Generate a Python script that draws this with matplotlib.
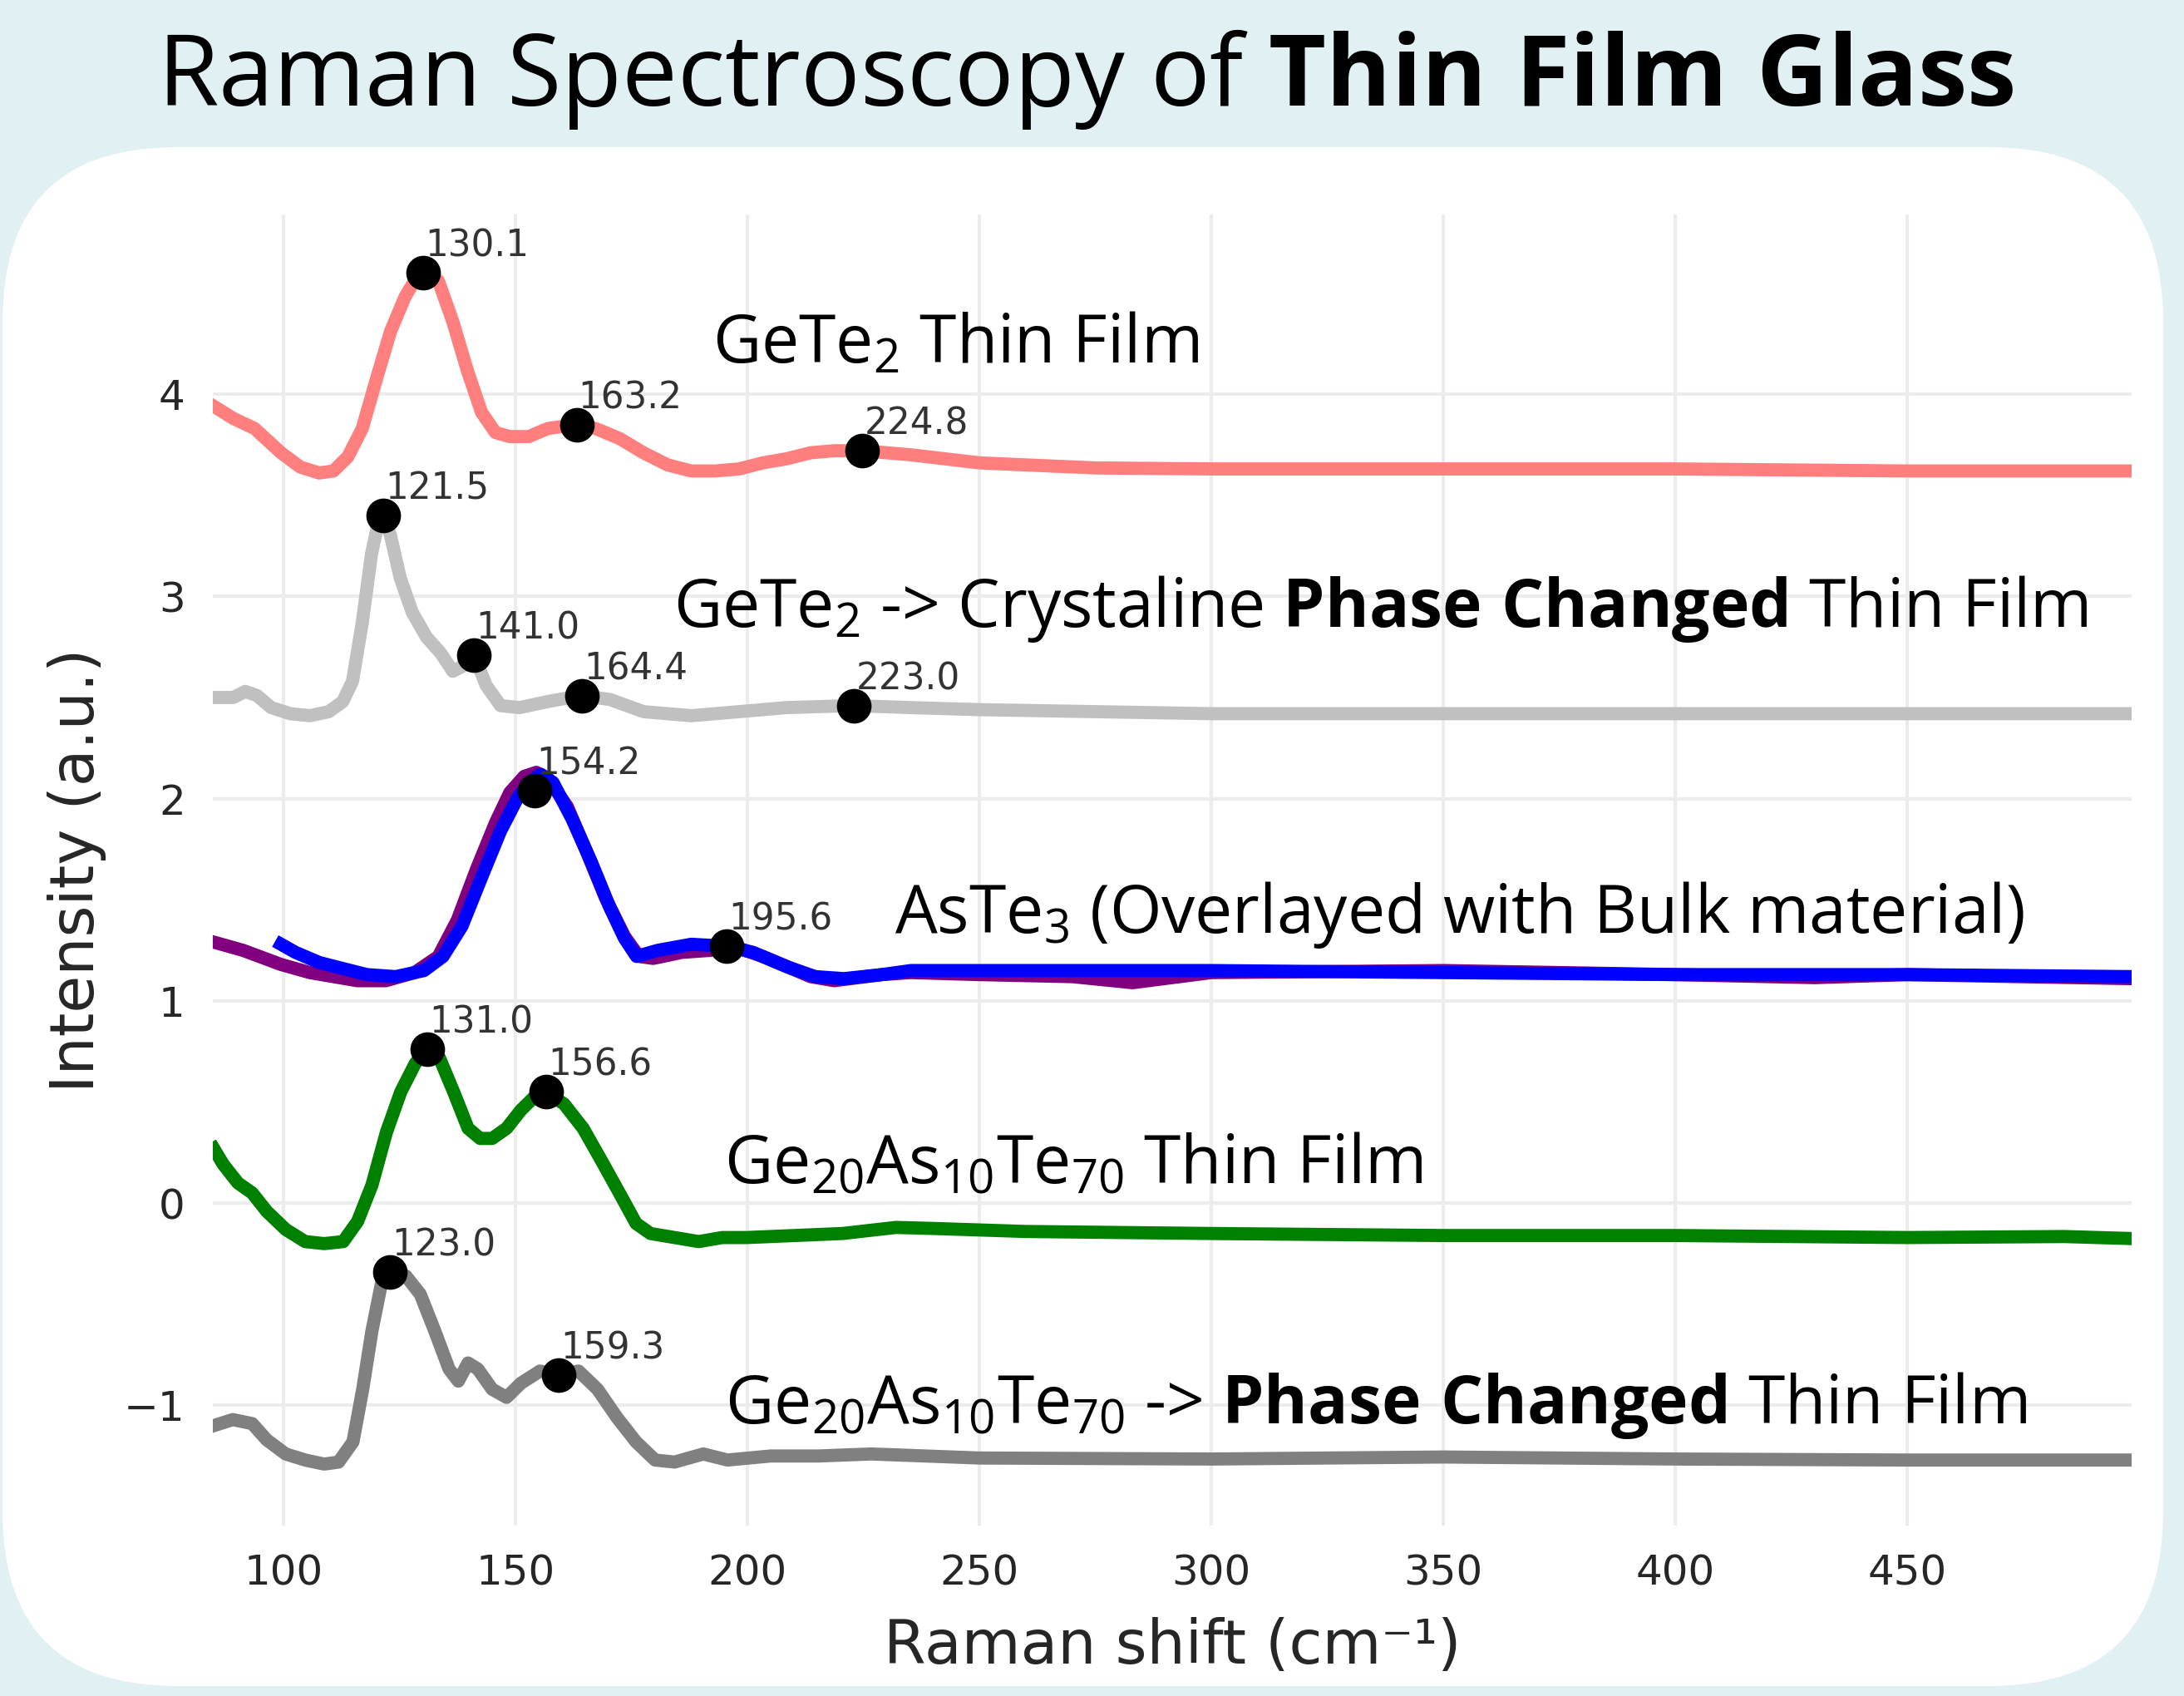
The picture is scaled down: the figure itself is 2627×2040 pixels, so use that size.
import matplotlib
matplotlib.use("Agg")
import matplotlib.pyplot as plt
from matplotlib.patches import FancyBboxPatch

# ---- data ----
# GeTe2 thin film (pink)
gete2_x = [85, 89.2, 93.8, 99.5, 103.6, 107.7, 110.8, 113.9, 117, 120, 123.1, 126.2, 128.8,
           130.8, 133.4, 136.5, 139.6, 142.7, 145.7, 148.8, 152.9, 157, 163.2, 167.3, 172.5,
           177.6, 182.8, 187.9, 193, 198.2, 203.3, 208.4, 213.6, 218.7, 224.8, 235.2, 250,
           275, 300, 350, 400, 450, 498.3]
gete2_y = [3.94, 3.88, 3.83, 3.71, 3.64, 3.61, 3.62, 3.69, 3.83, 4.07, 4.31, 4.48, 4.58,
           4.60, 4.56, 4.36, 4.12, 3.91, 3.81, 3.79, 3.79, 3.83, 3.85, 3.83, 3.78,
           3.71, 3.65, 3.62, 3.62, 3.63, 3.66, 3.68, 3.71, 3.72, 3.72, 3.70, 3.66,
           3.635, 3.63, 3.63, 3.63, 3.62, 3.62]

# GeTe2 -> crystalline phase changed (light grey)
gete2pc_x = [85, 89.2, 91.8, 94.3, 97.4, 101.5, 105.7, 109.8, 112.8, 114.9, 117, 119, 120.6,
             121.6, 123.1, 125.2, 127.8, 130.8, 133.9, 136.5, 139.1, 141.1, 143.7, 146.8,
             150.9, 157, 164.2, 170.4, 177.6, 187.9, 198.2, 208.4, 222.8, 235.2, 250, 300,
             400, 498.3]
gete2pc_y = [2.50, 2.50, 2.53, 2.51, 2.45, 2.42, 2.41, 2.43, 2.48, 2.58, 2.87, 3.21, 3.38,
             3.40, 3.30, 3.09, 2.92, 2.80, 2.72, 2.63, 2.66, 2.71, 2.56, 2.46,
             2.45, 2.48, 2.51, 2.49, 2.43, 2.41, 2.43, 2.45, 2.46, 2.45, 2.44, 2.42,
             2.42, 2.42]

# AsTe3 bulk (purple)
bulk_x = [85.1, 91.3, 99.5, 105.7, 115.9, 122.1, 128.3, 133.4, 137.5, 141.6, 145.7, 148.8,
          151.9, 154.5, 157, 161.2, 165.3, 169.4, 173.5, 176.6, 179.7, 185.9, 192, 198.2,
          203.3, 208.5, 213.6, 218.7, 229, 235.2, 250, 270, 283, 300, 350, 400, 430, 450,
          498.3]
bulk_y = [1.29, 1.25, 1.18, 1.14, 1.10, 1.10, 1.14, 1.22, 1.40, 1.65, 1.88, 2.03,
          2.11, 2.13, 2.10, 1.96, 1.74, 1.51, 1.32, 1.22, 1.21, 1.24, 1.25, 1.26,
          1.22, 1.17, 1.12, 1.10, 1.13, 1.14, 1.13, 1.12, 1.09, 1.14, 1.15, 1.13, 1.115,
          1.13, 1.11]

# AsTe3 thin film (blue)
astf_x = [99.5, 102.6, 107.7, 112.8, 118, 124.2, 130.3, 134.4, 138.5, 142.7, 146.8, 150.4,
          153, 155.5, 158.1, 162.2, 166.3, 170.4, 173.5, 176.1, 180.7, 187.9, 195.6, 201.2,
          208.4, 214.6, 220.8, 229, 235.2, 250, 300, 350, 400, 450, 498.3]
astf_y = [1.28, 1.24, 1.19, 1.16, 1.13, 1.12, 1.15, 1.22, 1.37, 1.61, 1.84, 2.00,
          2.08, 2.12, 2.08, 1.90, 1.69, 1.46, 1.31, 1.22, 1.25, 1.28, 1.27, 1.24,
          1.17, 1.12, 1.11, 1.13, 1.15, 1.15, 1.15, 1.14, 1.13, 1.13, 1.12]

# Ge20As10Te70 thin film (green)
gat_x = [85, 87.1, 90.2, 93.3, 96.4, 100.5, 104.7, 108.8, 112.9, 116, 119.1, 122.2, 125.3,
         128.4, 131, 133.6, 136.7, 139.8, 142.4, 145, 148.1, 151.2, 154.3, 156.6, 160.5,
         164.6, 168.8, 172.9, 176, 179.1, 184.3, 189.5, 194.6, 199.8, 210.1, 220.5, 232,
         240, 260, 300, 350, 400, 450, 483.8, 498.3]
gat_y = [0.27, 0.19, 0.10, 0.05, -0.04, -0.13, -0.19, -0.20, -0.19, -0.09, 0.09, 0.35, 0.55,
         0.69, 0.76, 0.72, 0.55, 0.37, 0.32, 0.32, 0.37, 0.46, 0.53, 0.55, 0.49,
         0.37, 0.20, 0.03, -0.10, -0.15, -0.17, -0.19, -0.17, -0.17, -0.16, -0.15, -0.12,
         -0.125, -0.14, -0.15, -0.16, -0.16, -0.17, -0.165, -0.175]

# Ge20As10Te70 -> phase changed (grey)
gatpc_x = [85, 89.1, 93.3, 96.4, 100.5, 104.7, 108.8, 111.9, 115, 117.1, 119.1, 121.2, 122.8,
           126.4, 129.5, 132.6, 135.7, 137.7, 139.8, 141.9, 145, 148.1, 151.2, 155.3, 159.3,
           163.6, 167.7, 171.9, 176, 180.1, 184.3, 190.5, 195.7, 205, 215.3, 226.7, 250,
           300, 350, 400, 450, 498.3]
gatpc_y = [-1.10, -1.07, -1.09, -1.17, -1.24, -1.27, -1.29, -1.28, -1.18, -0.92, -0.63, -0.39, -0.34,
           -0.36, -0.45, -0.63, -0.82, -0.88, -0.79, -0.82, -0.92, -0.96, -0.89, -0.83, -0.85,
           -0.83, -0.92, -1.06, -1.18, -1.27, -1.28, -1.24, -1.27, -1.25, -1.25, -1.24, -1.26,
           -1.265, -1.255, -1.265, -1.27, -1.27]

# marked peaks (x = Raman shift, y = intensity)
peaks_x = [130.1, 163.2, 224.8, 121.5, 141.0, 164.4, 223.0, 154.2, 195.6, 131.0, 156.6, 123.0, 159.3]
peaks_y = [4.60, 3.85, 3.72, 3.40, 2.71, 2.51, 2.46, 2.04, 1.27, 0.76, 0.55, -0.34, -0.85]

labels = [r"GeTe$_2$ Thin Film",
          r"GeTe$_2$ -> Crystaline $\mathbf{Phase\ Changed}$ Thin Film",
          r"AsTe$_3$ (Overlayed with Bulk material)",
          r"Ge$_{20}$As$_{10}$Te$_{70}$ Thin Film",
          r"Ge$_{20}$As$_{10}$Te$_{70}$ -> $\mathbf{Phase\ Changed}$ Thin Film"]
labels_x = [192.5, 184.1, 231.8, 194.9, 195.2]
labels_y = [4.158, 2.85, 1.335, 0.095, -1.088]

# ---- figure ----
plt.rcParams['mathtext.fontset'] = 'custom'
plt.rcParams['mathtext.rm'] = 'Open Sans'
plt.rcParams['mathtext.it'] = 'Open Sans:italic'
plt.rcParams['mathtext.bf'] = 'Open Sans:bold'

DPI = 300
fig = plt.figure(figsize=(2627 / DPI, 2040 / DPI), dpi=DPI, facecolor='#e0f0f3')

# white rounded panel (in inches so the corners stay round)
panel = FancyBboxPatch((3 / DPI, 12 / DPI), 2599 / DPI, 1851 / DPI,
                       boxstyle="round,pad=0,rounding_size=0.7",
                       transform=fig.dpi_scale_trans, facecolor='white',
                       edgecolor='none', zorder=-5)
fig.patches.append(panel)

ax = fig.add_axes([256 / 2627, 1 - 1835 / 2040, (2564 - 256) / 2627, (1835 - 258) / 2040])
ax.set_facecolor('none')
ax.set_zorder(2)

lw = 3.8
ax.plot(gete2_x, gete2_y, color='#ff7f7f', lw=lw)
ax.plot(gete2pc_x, gete2pc_y, color='#c0c0c0', lw=lw)
ax.plot(bulk_x, bulk_y, color='#800080', lw=lw)
ax.plot(astf_x, astf_y, color='#0000ff', lw=lw)
ax.plot(gat_x, gat_y, color='#008000', lw=lw)
ax.plot(gatpc_x, gatpc_y, color='#808080', lw=lw)

ax.plot(peaks_x, peaks_y, 'o', color='black', ms=9, ls='none', zorder=5)
for px, py in zip(peaks_x, peaks_y):
    ax.annotate(f"{px:.1f}", (px, py), xytext=(0.5, 2.5), textcoords='offset points',
                ha='left', va='bottom', fontsize=10.5, color='#333333', zorder=6)

for txt, tx, ty in zip(labels, labels_x, labels_y):
    ax.text(tx, ty, txt, fontsize=19.3, family='Open Sans', ha='left', va='baseline',
            color='black', zorder=7)

ax.set_xlim(84.8, 498.3)
ax.set_ylim(-1.594, 4.888)
ax.set_xticks([100, 150, 200, 250, 300, 350, 400, 450])
ax.set_yticks([-1, 0, 1, 2, 3, 4])
ax.grid(True, color='#ececec', lw=1.0)
ax.set_axisbelow(True)
for s in ax.spines.values():
    s.set_visible(False)
ax.tick_params(length=0, labelsize=12, colors='#262626', pad=8)
ax.set_xlabel("Raman shift (cm⁻¹)", fontsize=17.5, color='#262626', labelpad=7)
ax.set_ylabel("Intensity (a.u.)", fontsize=17.5, color='#262626', labelpad=5)

fig.text(0.497, 1 - 127 / 2040, r"Raman Spectroscopy of $\mathbf{Thin\ Film\ Glass}$",
         fontsize=28.6, family='Open Sans', ha='center', va='baseline', color='black')

fig.savefig('out.png', dpi=DPI, facecolor=fig.get_facecolor())
